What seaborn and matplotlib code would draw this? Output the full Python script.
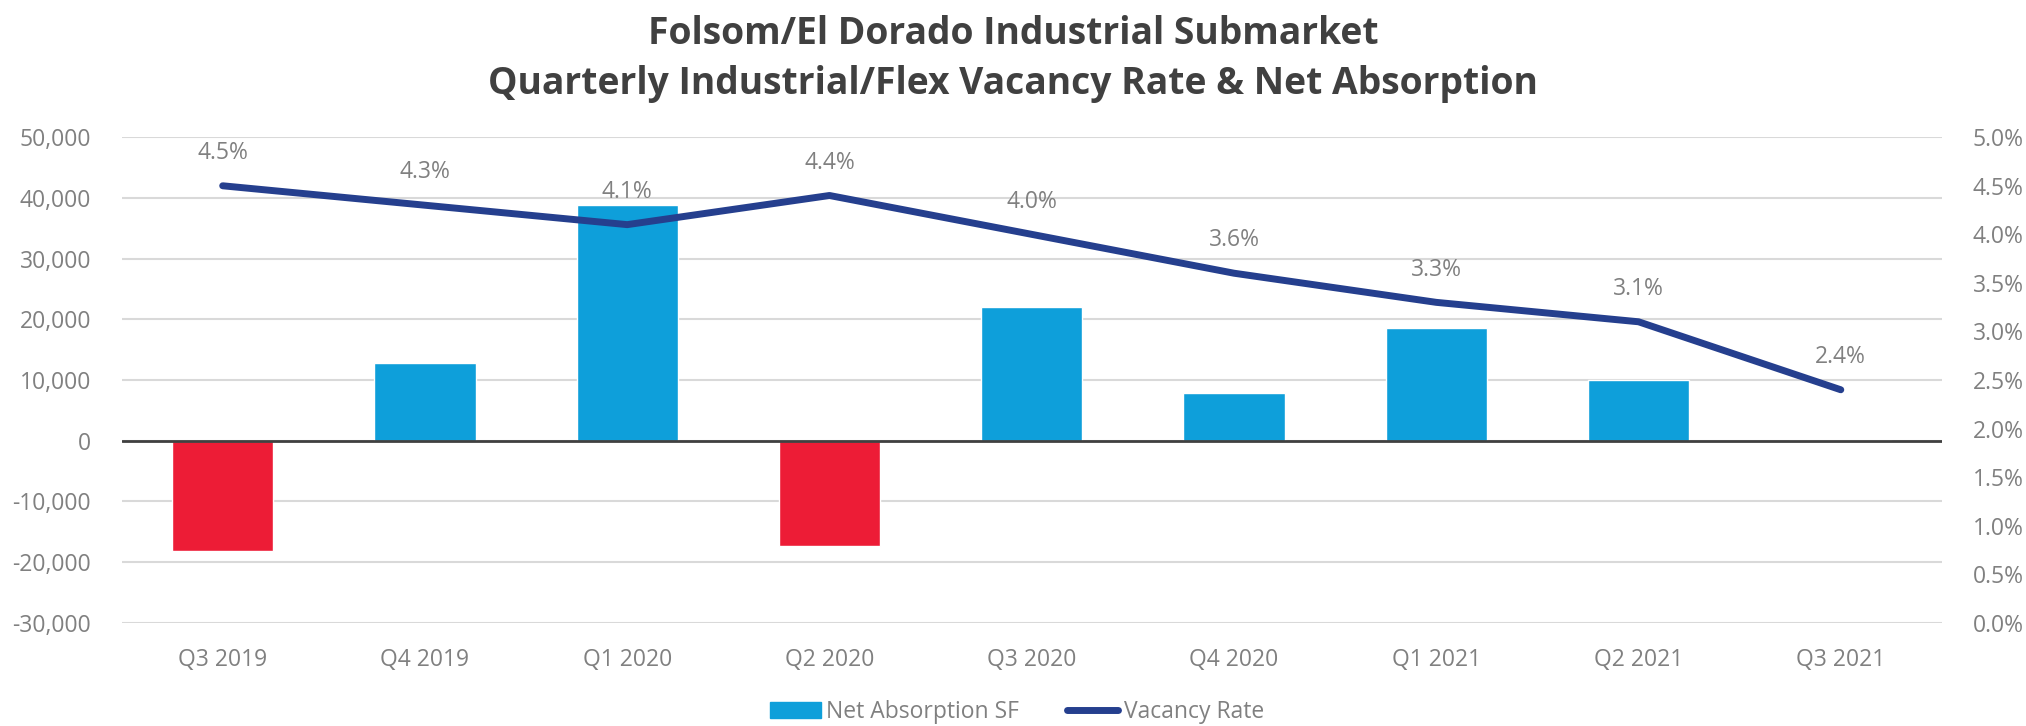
import numpy as np
import pandas as pd
import matplotlib
matplotlib.use('Agg')
import matplotlib.pyplot as plt
import matplotlib.ticker as mticker
from matplotlib.patches import Patch
from matplotlib.lines import Line2D
import seaborn as sns

quarters = ['Q3 2019', 'Q4 2019', 'Q1 2020', 'Q2 2020', 'Q3 2020',
            'Q4 2020', 'Q1 2021', 'Q2 2021', 'Q3 2021']
net_absorption = [-18100, 12800, 38800, -17300, 22100, 7800, 18500, 10000, 150]
vacancy_rate = [4.5, 4.3, 4.1, 4.4, 4.0, 3.6, 3.3, 3.1, 2.4]

blue = '#0E9FDA'
red = '#ED1C36'
navy = '#253F8E'
grey = '#808080'

sns.set_style('white')
plt.rcParams['font.family'] = ['Open Sans', 'DejaVu Sans']

df = pd.DataFrame({'Quarter': quarters, 'Net Absorption': net_absorption,
                   'Vacancy': vacancy_rate})
bar_colors = [red if v < 0 else blue for v in net_absorption]

fig = plt.figure(figsize=(20.26, 7.26), dpi=100)
ax = fig.add_axes([0.060, 0.142, 0.8985, 0.669])

sns.barplot(data=df, x='Quarter', y='Net Absorption', hue='Quarter',
            palette=bar_colors, legend=False, width=0.5, ax=ax, saturation=1)

ax.set_ylim(-30000, 50000)
ax.yaxis.set_major_locator(mticker.MultipleLocator(10000))
ax.yaxis.set_major_formatter(mticker.FuncFormatter(lambda v, p: f'{v:,.0f}'))
ax.grid(axis='y', color='#d9d9d9', linewidth=1.5)
ax.set_axisbelow(True)
ax.axhline(0, color='#404040', linewidth=2, zorder=3)
for s in ax.spines.values():
    s.set_visible(False)
ax.set_xlabel('')
ax.set_ylabel('')
ax.tick_params(axis='both', colors=grey, labelsize=16.5, length=0)
ax.tick_params(axis='y', pad=22)
ax.tick_params(axis='x', pad=18)

ax2 = ax.twinx()
sns.lineplot(data=df, x='Quarter', y='Vacancy', color=navy, linewidth=5,
             ax=ax2, solid_capstyle='round')
ax2.set_ylim(0, 5)
ax2.yaxis.set_major_locator(mticker.MultipleLocator(0.5))
ax2.yaxis.set_major_formatter(mticker.FuncFormatter(lambda v, p: f'{v:.1f}%'))
for s in ax2.spines.values():
    s.set_visible(False)
ax2.set_ylabel('')
ax2.tick_params(axis='y', colors=grey, labelsize=16.5, length=0, pad=22)
ax2.grid(False)
ax.set_xlim(-0.5, len(quarters) - 0.5)

for q, v in zip(quarters, vacancy_rate):
    ax2.annotate(f'{v:.1f}%', (q, v), xytext=(0, 15), textcoords='offset points',
                 ha='center', va='bottom', fontsize=16.5, color=grey)

fig.text(0.5, 0.953, 'Folsom/El Dorado Industrial Submarket', ha='center',
         va='center', fontsize=26.8, fontweight='bold', color='#404040')
fig.text(0.5, 0.884, 'Quarterly Industrial/Flex Vacancy Rate & Net Absorption',
         ha='center', va='center', fontsize=26.8, fontweight='bold', color='#404040')

handles = [Patch(color=blue, label='Net Absorption SF'),
           Line2D([0], [0], color=navy, linewidth=5, solid_capstyle='round',
                  label='Vacancy Rate')]
leg = fig.legend(handles=handles, loc='center', bbox_to_anchor=(0.502, 0.019),
                 ncol=2, frameon=False, fontsize=16.5, handlelength=2.2,
                 handletextpad=0.25, columnspacing=2.1)
for t in leg.get_texts():
    t.set_color(grey)

fig.savefig('out.png', dpi=100)
